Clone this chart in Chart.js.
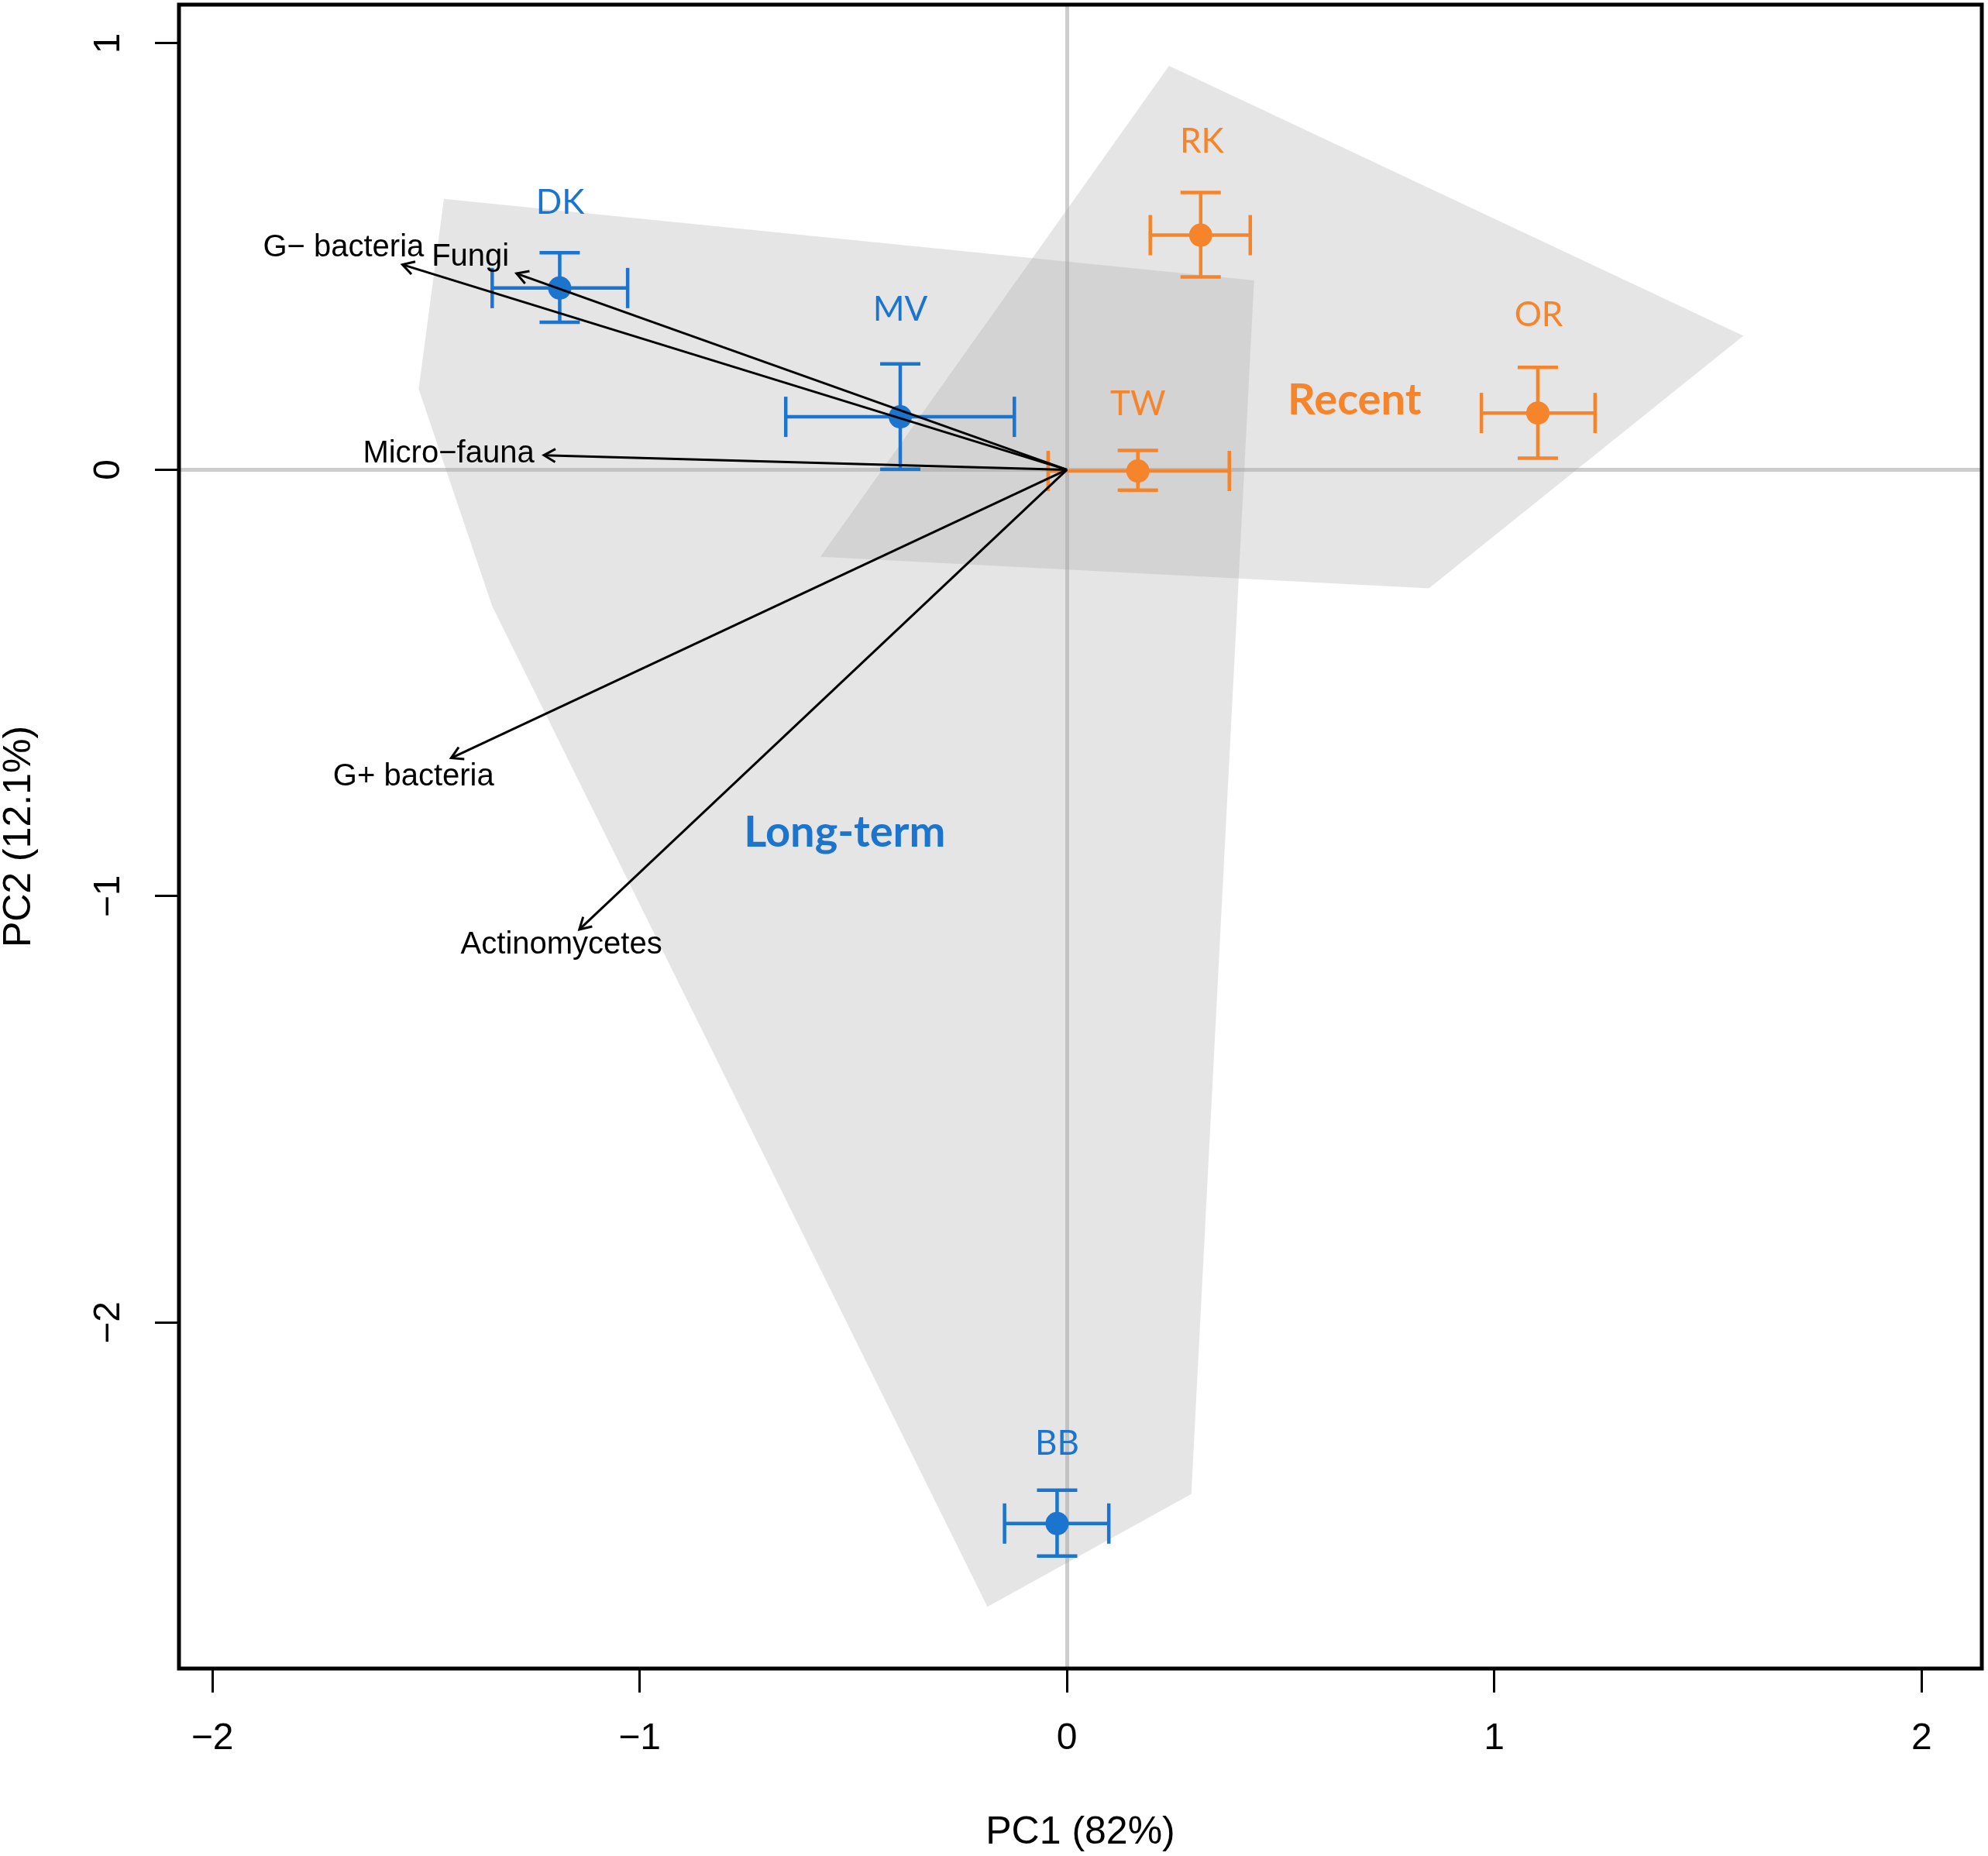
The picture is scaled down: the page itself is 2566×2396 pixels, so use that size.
<!DOCTYPE html>
<html>
<head>
<meta charset="utf-8">
<script src="https://cdn.jsdelivr.net/npm/chart.js@4.4.0/dist/chart.umd.min.js"></script>
<style>
  html, body { margin: 0; padding: 0; background: #fff; }
  #wrap { width: 2566px; height: 2396px; position: relative; }
</style>
</head>
<body>
<div id="wrap"><canvas id="pca"></canvas></div>
<script>
// sites (mean PC scores with error bars)
const sites = ['DK', 'MV', 'BB', 'RK', 'TW', 'OR'];
const siteGroup = ['long', 'long', 'long', 'recent', 'recent', 'recent'];
const pc1 = [-1.187, -0.390, -0.023, 0.313, 0.166, 1.102];
const pc2 = [0.426, 0.124, -2.471, 0.550, -0.003, 0.133];
const pc1Lo = [-1.345, -0.658, -0.146, 0.195, -0.044, 0.970];
const pc1Hi = [-1.028, -0.123, 0.098, 0.429, 0.380, 1.236];
const pc2Lo = [0.346, 0.001, -2.547, 0.452, -0.048, 0.027];
const pc2Hi = [0.509, 0.248, -2.393, 0.650, 0.045, 0.240];
const siteLabelX = [-1.186, -0.390, -0.023, 0.316, 0.166, 1.104];
const siteLabelY = [0.626, 0.375, -2.284, 0.769, 0.154, 0.363];

// group hulls
const longHullX = [-1.458, 0.438, 0.291, -0.186, -1.345, -1.517];
const longHullY = [0.635, 0.444, -2.402, -2.666, -0.320, 0.189];
const recentHullX = [0.239, 1.583, 0.847, -0.577];
const recentHullY = [0.947, 0.314, -0.278, -0.204];
const groupNames = ['Long-term', 'Recent'];
const groupLabelX = [-0.520, 0.673];
const groupLabelY = [-0.851, 0.163];

// variable loadings (arrows)
const vars = ['G\u2212 bacteria', 'Fungi', 'Micro\u2212fauna', 'G+ bacteria', 'Actinomycetes'];
const loadX = [-1.555, -1.288, -1.224, -1.441, -1.141];
const loadY = [0.481, 0.460, 0.034, -0.676, -1.078];
const varLabelX = [-1.693, -1.396, -1.447, -1.529, -1.183];
const varLabelY = [0.520, 0.499, 0.037, -0.720, -1.115];

// axes
const xTicks = [-2, -1, 0, 1, 2];
const yTicks = [-2, -1, 0, 1];
const xRange = [-2.078, 2.141];
const yRange = [-2.811, 1.0905];

const blue = '#1b74cd';
const orange = '#f6842a';
const colorOf = (g) => g === 'long' ? blue : orange;
const fmt = (v) => v < 0 ? '\u2212' + Math.abs(v) : String(v);
const sansFont = '"Liberation Sans", Arial, sans-serif';

const hull = (xs, ys) => ({
  data: xs.map((x, i) => ({ x, y: ys[i] })),
  showLine: true,
  fill: 'shape',
  backgroundColor: 'rgba(170,170,170,0.3)',
  borderWidth: 0,
  pointRadius: 0,
  order: 10,
});

const datasets = [hull(longHullX, longHullY), hull(recentHullX, recentHullY)];

sites.forEach((s, i) => {
  const c = colorOf(siteGroup[i]);
  const bar = {
    showLine: true,
    borderColor: c,
    borderWidth: 4.5,
    pointStyle: 'line',
    pointRadius: 26,
    pointBorderColor: c,
    pointBorderWidth: 4.5,
    order: 3,
  };
  datasets.push({ ...bar, data: [{ x: pc1Lo[i], y: pc2[i] }, { x: pc1Hi[i], y: pc2[i] }], pointRotation: 90 });
  datasets.push({ ...bar, data: [{ x: pc1[i], y: pc2Lo[i] }, { x: pc1[i], y: pc2Hi[i] }], pointRotation: 0 });
});

datasets.push({
  data: sites.map((s, i) => ({ x: pc1[i], y: pc2[i] })),
  pointRadius: 15,
  pointBackgroundColor: siteGroup.map(colorOf),
  pointBorderWidth: 0,
  order: 2,
});

vars.forEach((v, i) => {
  datasets.push({
    data: [{ x: 0, y: 0 }, { x: loadX[i], y: loadY[i] }],
    showLine: true,
    borderColor: '#000',
    borderWidth: 3,
    pointRadius: 0,
    order: 1,
  });
});

const overlay = {
  id: 'overlay',
  afterDatasetsDraw(chart) {
    const { ctx, scales: { x, y } } = chart;
    ctx.save();
    // arrow heads
    ctx.strokeStyle = '#000';
    ctx.lineWidth = 3;
    const x0 = x.getPixelForValue(0);
    const y0 = y.getPixelForValue(0);
    loadX.forEach((lx, i) => {
      const px = x.getPixelForValue(lx);
      const py = y.getPixelForValue(loadY[i]);
      const ang = Math.atan2(py - y0, px - x0);
      const len = 17, spread = Math.PI / 6;
      ctx.beginPath();
      ctx.moveTo(px - len * Math.cos(ang - spread), py - len * Math.sin(ang - spread));
      ctx.lineTo(px, py);
      ctx.lineTo(px - len * Math.cos(ang + spread), py - len * Math.sin(ang + spread));
      ctx.stroke();
    });

    ctx.textAlign = 'center';
    ctx.textBaseline = 'middle';
    ctx.fillStyle = '#000';
    ctx.font = '40px ' + sansFont;
    vars.forEach((v, i) => {
      ctx.fillText(v, x.getPixelForValue(varLabelX[i]), y.getPixelForValue(varLabelY[i]));
    });

    ctx.font = '44px Lato, sans-serif';
    sites.forEach((s, i) => {
      ctx.fillStyle = colorOf(siteGroup[i]);
      ctx.fillText(s, x.getPixelForValue(siteLabelX[i]), y.getPixelForValue(siteLabelY[i]));
    });

    ctx.font = 'bold 56px Lato, sans-serif';
    groupNames.forEach((g, i) => {
      ctx.fillStyle = i === 0 ? blue : orange;
      ctx.fillText(g, x.getPixelForValue(groupLabelX[i]), y.getPixelForValue(groupLabelY[i]));
    });
    ctx.restore();
  },
  afterDraw(chart) {
    const { ctx, chartArea: a, scales: { y } } = chart;
    ctx.save();
    ctx.strokeStyle = '#000';
    ctx.lineWidth = 5;
    ctx.strokeRect(a.left, a.top, a.right - a.left, a.bottom - a.top);
    // y tick labels, rotated like R's las = 0
    ctx.fillStyle = '#000';
    ctx.font = '48px ' + sansFont;
    ctx.textAlign = 'center';
    ctx.textBaseline = 'middle';
    y.ticks.forEach((t) => {
      ctx.save();
      ctx.translate(141, y.getPixelForValue(t.value));
      ctx.rotate(-Math.PI / 2);
      ctx.fillText(fmt(t.value), 0, 0);
      ctx.restore();
    });
    ctx.restore();
  },
};

const zeroGrid = {
  drawOnChartArea: true,
  drawTicks: true,
  color: (c) => c.tick && c.tick.value === 0 ? '#cdcdcd' : 'rgba(0,0,0,0)',
  lineWidth: 5,
  tickColor: '#000',
  tickWidth: 3,
  tickLength: 31,
};

new Chart(document.getElementById('pca'), {
  type: 'scatter',
  data: { datasets },
  options: {
    responsive: true,
    maintainAspectRatio: false,
    animation: false,
    devicePixelRatio: 1,
    layout: { autoPadding: false, padding: { top: 6, right: 8, left: 0, bottom: 0 } },
    plugins: { legend: { display: false }, tooltip: { enabled: false } },
    scales: {
      x: {
        type: 'linear',
        min: xRange[0],
        max: xRange[1],
        afterBuildTicks: (s) => { s.ticks = xTicks.map((v) => ({ value: v })); },
        afterFit: (s) => { s.height = 242; },
        border: { display: false },
        grid: zeroGrid,
        ticks: {
          color: '#000',
          font: { size: 48, family: sansFont },
          padding: 31,
          maxRotation: 0,
          autoSkip: false,
          callback: (v) => fmt(v),
        },
        title: {
          display: true,
          text: 'PC1 (82%)',
          color: '#000',
          font: { size: 50, family: sansFont, lineHeight: 1 },
          padding: { top: 0, bottom: 5 },
        },
      },
      y: {
        type: 'linear',
        min: yRange[0],
        max: yRange[1],
        afterBuildTicks: (s) => { s.ticks = yTicks.map((v) => ({ value: v })); },
        afterFit: (s) => { s.width = 231; },
        border: { display: false },
        grid: zeroGrid,
        ticks: { display: false },
        title: {
          display: true,
          text: 'PC2 (12.1%)',
          color: '#000',
          font: { size: 50, family: sansFont, lineHeight: 1 },
          padding: { top: 0, bottom: 0 },
        },
      },
    },
  },
  plugins: [overlay],
});
</script>
</body>
</html>
